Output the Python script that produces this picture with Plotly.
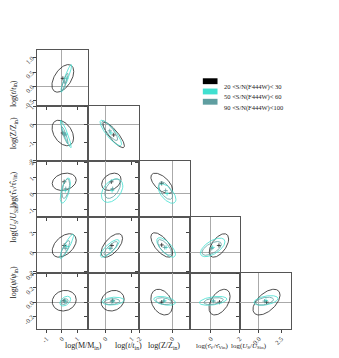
import numpy as np
import plotly.graph_objects as go

# parameter names (columns: first five, rows: last five)
col_labels = ['log(M/M<sub>in</sub>)', 'log(<i>t</i>/<i>t</i><sub>in</sub>)', 'log(Z/Z<sub>in</sub>)',
              'log(τ̂<sub>V</sub>/τ̂<sub>Vin</sub>)', 'log(<i>U</i><sub>S</sub>/<i>U</i><sub>Sin</sub>)']
row_labels = ['log(<i>t</i>/<i>t</i><sub>in</sub>)', 'log(Z/Z<sub>in</sub>)',
              'log(τ̂<sub>V</sub>/τ̂<sub>Vin</sub>)', 'log(<i>U</i><sub>S</sub>/<i>U</i><sub>Sin</sub>)',
              'log(<i>ψ</i>/<i>ψ</i><sub>in</sub>)']

col_ranges = [[-1.6, 1.7], [-0.67, 1.27], [-2.05, 1.05], [-1.5, 2.05], [-2.1, 3.6]]
row_ranges = [[-0.67, 1.27], [-2.05, 1.05], [-1.5, 2.05], [-2.1, 3.6], [-0.37, 0.41]]
col_ticks = [[-1, 0, 1], [0, 1], [-2, 0], [0, 2], [0.0, 2.5]]
col_ticktext = [['-1', '0', '1'], ['0', '1'], ['-2', '0'], ['0', '2'], ['0.0', '2.5']]
row_ticks = [[-0.5, 0.0, 0.5, 1.0], [-2, -1, 0, 1], [-1, 0, 1, 2], [-2, 0, 2], [-0.2, 0.0, 0.2, 0.4]]
row_ticktext = [['-0.5', '0.0', '0.5', '1.0'], ['-2', '-1', '0', '1'], ['-1', '0', '1', '2'],
                ['-2', '0', '2'], ['-0.2', '0.0', '0.2', '0.4']]

groups = ['20 <S/N(F444W)< 30', '50 <S/N(F444W)< 60', '90 <S/N(F444W)<100']
colors = ['#222222', '#40E0D0', '#5F9EA0']

# per panel (row, col): [mean_x, mean_y, sigma_x, sigma_y, rho] for each S/N group
ell_low = {
    (0, 0): [0.06, 0.28, 0.71, 0.48, 0.5],
    (1, 0): [0.06, -0.47, 0.70, 0.71, -0.4],
    (1, 1): [0.31, -0.58, 0.41, 0.71, -0.85],
    (2, 0): [0.15, 0.75, 0.78, 0.55, 0.2],
    (2, 1): [0.22, 0.75, 0.37, 0.55, 0.3],
    (2, 2): [-0.65, 0.65, 0.66, 0.65, -0.6],
    (3, 0): [0.15, 0.7, 0.78, 1.2, 0.45],
    (3, 1): [0.24, 0.7, 0.41, 1.2, 0.6],
    (3, 2): [-0.65, 0.75, 0.66, 1.25, -0.65],
    (3, 3): [0.56, 0.7, 0.68, 1.2, 0.55],
    (4, 0): [0.15, 0.02, 0.78, 0.144, 0.1],
    (4, 1): [0.27, 0.02, 0.44, 0.144, 0.15],
    (4, 2): [-0.65, 0.0, 0.66, 0.18, -0.3],
    (4, 3): [0.6, 0.0, 0.74, 0.18, 0.45],
    (4, 4): [0.85, 0.0, 1.52, 0.18, 0.55],
}
ell_mid = {
    (0, 0): [0.28, 0.28, 0.35, 0.48, 0.93],
    (1, 0): [0.25, -0.53, 0.35, 0.76, -0.93],
    (1, 1): [0.2, -0.47, 0.41, 0.71, -0.85],
    (2, 0): [0.22, 0.19, 0.33, 0.8, 0.6],
    (2, 1): [0.25, 0.19, 0.41, 0.75, 0.4],
    (2, 2): [-0.32, 0.0, 0.54, 0.62, -0.6],
    (3, 0): [0.31, 0.6, 0.45, 1.25, 0.9],
    (3, 1): [0.16, 0.4, 0.36, 0.9, 0.8],
    (3, 2): [-0.38, 0.5, 0.57, 1.0, -0.7],
    (3, 3): [0.12, 0.5, 0.86, 0.95, 0.6],
    (4, 0): [0.22, 0.014, 0.35, 0.068, 0.4],
    (4, 1): [0.29, 0.014, 0.41, 0.055, 0.2],
    (4, 2): [-0.47, 0.018, 0.66, 0.062, -0.4],
    (4, 3): [0.15, 0.018, 0.96, 0.062, 0.4],
    (4, 4): [0.79, 0.023, 1.35, 0.068, 0.4],
}
ell_high = {
    (0, 0): [0.18, 0.15, 0.22, 0.31, 0.9],
    (1, 0): [0.18, -0.58, 0.22, 0.49, -0.9],
    (1, 1): [0.16, -0.35, 0.3, 0.54, -0.85],
    (2, 0): [0.25, 0.31, 0.25, 0.62, 0.5],
    (2, 1): [0.27, 0.31, 0.3, 0.62, 0.5],
    (2, 2): [-0.41, 0.19, 0.42, 0.56, -0.6],
    (3, 0): [0.22, 0.4, 0.29, 0.8, 0.8],
    (3, 1): [0.2, 0.4, 0.26, 0.7, 0.8],
    (3, 2): [-0.47, 0.5, 0.42, 0.8, -0.7],
    (3, 3): [0.05, 0.4, 0.68, 0.7, 0.6],
    (4, 0): [0.18, 0.007, 0.22, 0.041, 0.3],
    (4, 1): [0.24, 0.007, 0.3, 0.041, 0.2],
    (4, 2): [-0.53, 0.014, 0.48, 0.048, -0.3],
    (4, 3): [0.18, 0.014, 0.68, 0.048, 0.4],
    (4, 4): [0.63, 0.014, 1.0, 0.055, 0.4],
}
ellipses = [ell_low, ell_mid, ell_high]

W, H = 339, 358
x0, cw = 33, 51.8
y0, rh = 48, 57.0
serif = 'Liberation Serif'

fig = go.Figure()
layout = {}
theta = np.linspace(0, 2 * np.pi, 120)
n = 0
for r in range(5):
    for c in range(r + 1):
        n += 1
        sfx = '' if n == 1 else str(n)
        xd = [(x0 + c * cw) / W, (x0 + (c + 1) * cw) / W]
        yd = [1 - (y0 + (r + 1) * rh) / H, 1 - (y0 + r * rh) / H]
        common = dict(tickangle=-45, ticks='outside', ticklen=3, tickcolor='#444',
                      showgrid=False, zeroline=True, zerolinecolor='#aaaaaa', zerolinewidth=1,
                      showline=True, linecolor='#555', linewidth=1, mirror=True,
                      tickfont=dict(size=6.5, family=serif, color='#333'))
        layout['xaxis' + sfx] = dict(domain=xd, anchor='y' + sfx, range=col_ranges[c],
                                     tickvals=col_ticks[c], ticktext=col_ticktext[c],
                                     showticklabels=(r == 4), **common)
        layout['yaxis' + sfx] = dict(domain=yd, anchor='x' + sfx, range=row_ranges[r],
                                     tickvals=row_ticks[r], ticktext=row_ticktext[r],
                                     showticklabels=(c == 0), **common)
        for g in range(3):
            mx, my, sx, sy, rho = ellipses[g][(r, c)]
            ex = mx + sx * np.cos(theta)
            ey = my + sy * (rho * np.cos(theta) + np.sqrt(1 - rho ** 2) * np.sin(theta))
            fig.add_trace(go.Scatter(x=ex, y=ey, mode='lines', xaxis='x' + sfx, yaxis='y' + sfx,
                                     line=dict(color=colors[g], width=0.8), showlegend=False,
                                     hoverinfo='skip'))
            fig.add_trace(go.Scatter(x=[mx], y=[my], mode='markers', xaxis='x' + sfx, yaxis='y' + sfx,
                                     marker=dict(symbol='cross-thin', size=3,
                                                 line=dict(color=colors[g], width=0.8)),
                                     showlegend=False, name=groups[g], hoverinfo='skip'))

annotations = []
title_sizes = [8, 8, 8, 7, 7]
title_shift = [0, 0, 0, -3, 3]
for c in range(5):
    annotations.append(dict(x=(x0 + (c + 0.5) * cw + title_shift[c]) / W, y=1 - 351 / H,
                            xref='paper', yref='paper', yanchor='middle',
                            text=col_labels[c], showarrow=False,
                            font=dict(size=title_sizes[c], family=serif, color='#222')))
for r in range(5):
    annotations.append(dict(x=9 / W, y=1 - (y0 + (r + 0.5) * rh) / H, xref='paper', yref='paper',
                            xanchor='center', text=row_labels[r], showarrow=False, textangle=-90,
                            font=dict(size=8, family=serif, color='#222')))

# legend drawn by hand
shapes = []
for g in range(3):
    yc = 80 + g * 10.5
    shapes.append(dict(type='rect', xref='paper', yref='paper', x0=202 / W, x1=217 / W,
                       y0=1 - (yc + 3) / H, y1=1 - (yc - 3) / H,
                       fillcolor=colors[g] if g else '#000000', line=dict(width=0)))
    annotations.append(dict(x=222 / W, y=1 - yc / H, xref='paper', yref='paper', xanchor='left',
                            text=groups[g].replace('<', '&lt;'), showarrow=False,
                            font=dict(size=6.5, family=serif, color='#222')))

fig.update_layout(**layout)
fig.update_layout(width=W, height=H, margin=dict(l=0, r=0, t=0, b=0),
                  paper_bgcolor='white', plot_bgcolor='white', showlegend=False,
                  hovermode=False, annotations=annotations, shapes=shapes)

fig.write_html('out.html', config={'displayModeBar': False},
               post_script="document.body.style.margin='0';")
